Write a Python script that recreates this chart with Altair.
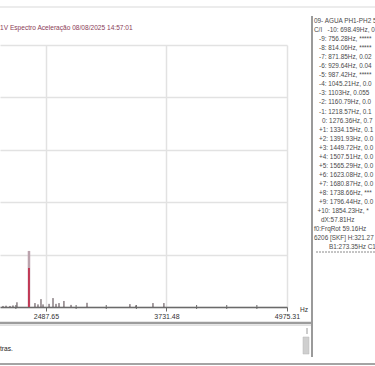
import altair as alt
import pandas as pd

# ---------------- data ----------------
title_text = ["1V Espectro Aceleração 08/08/2025 14:57:01"]

x_ticks = [2487.65, 3731.48, 4975.31]
x_minor = [2176.69, 2798.61, 3109.57, 3420.52, 4042.44, 4353.39, 4664.35]
x_min = 2012.9

peak_hz = [2044, 2075, 2116, 2147, 2188, 2374, 2405, 2436, 2457, 2519,
           2560, 2591, 2622, 2673, 2746, 2911, 3354, 3416, 3592, 3705]
peak_amp = [0.004, 0.005, 0.004, 0.006, 0.018, 0.015, 0.010, 0.030, 0.010, 0.012,
            0.034, 0.012, 0.015, 0.023, 0.008, 0.016, 0.011, 0.006, 0.015, 0.015]

main_hz = [2312]
main_total = [0.214]
main_red = [0.149]

panel_prefix = ["C/I"]
panel_lines = [
    "09- AGUA PH1-PH2 5",
    "-10: 698.49Hz, 0",
    "-9: 756.28Hz, *****",
    "-8: 814.06Hz, *****",
    "-7: 871.85Hz, 0.02",
    "-6: 929.64Hz, 0.04",
    "-5: 987.42Hz, *****",
    "-4: 1045.21Hz, 0.0",
    "-3: 1103Hz, 0.055",
    "-2: 1160.79Hz, 0.0",
    "-1: 1218.57Hz, 0.1",
    "0: 1276.36Hz, 0.7",
    "+1: 1334.15Hz, 0.1",
    "+2: 1391.93Hz, 0.0",
    "+3: 1449.72Hz, 0.0",
    "+4: 1507.51Hz, 0.0",
    "+5: 1565.29Hz, 0.0",
    "+6: 1623.08Hz, 0.0",
    "+7: 1680.87Hz, 0.0",
    "+8: 1738.66Hz, ***",
    "+9: 1796.44Hz, 0.0",
    "+10: 1854.23Hz, *",
    "dX:57.81Hz",
    "f0:FrqRot 59.16Hz",
    "6206 [SKF] H:321.27",
    "B1:273.35Hz C1",
]
bottom_text = ["tras."]
unit_text = ["Hz"]

# ---------------- chart ----------------
W, H = 287, 262
FONT = "Liberation Sans"

xscale = alt.Scale(domain=[x_min, 4975.31], nice=False, zero=False)
yscale = alt.Scale(domain=[0, 1], nice=False)

peaks = pd.DataFrame({"f": peak_hz, "a": peak_amp})
main = pd.DataFrame({"f": main_hz, "t": main_total, "r": main_red})

xaxis = alt.Axis(values=x_ticks, labelExpr="format(datum.value, '.2f')",
                 grid=True, gridColor="#e2e2e2", gridWidth=1.5,
                 domainColor="#6a6a6a", domainWidth=1.5,
                 tickColor="#6a6a6a", tickSize=4, labelFontSize=7,
                 labelFont=FONT, labelColor="#333", labelPadding=1,
                 title=None, labelFlush=False)
yaxis = alt.Axis(values=[round(i * 0.1, 1) for i in range(11)], grid=True,
                 gridColor="#e2e2e2", gridWidth=1.5, labels=False, ticks=False,
                 domain=False, title=None)

grid = alt.Chart(peaks).mark_rule(color="#4e3f45", strokeWidth=1).encode(
    x=alt.X("f:Q", scale=xscale, axis=xaxis),
    y=alt.Y("a:Q", scale=yscale, axis=yaxis),
    y2=alt.datum(0),
)

main_gray = alt.Chart(main).mark_rule(color="#bba3ad", strokeWidth=2.5).encode(
    x=alt.X("f:Q", scale=xscale), y=alt.Y("t:Q", scale=yscale), y2=alt.datum(0))
main_red_l = alt.Chart(main).mark_rule(color="#c2304e", strokeWidth=1.8).encode(
    x=alt.X("f:Q", scale=xscale), y=alt.Y("r:Q", scale=yscale), y2=alt.datum(0))

minor = alt.Chart(pd.DataFrame({"f": x_minor})).mark_rule(
    color="#6a6a6a", strokeWidth=1).encode(
    x=alt.X("f:Q", scale=xscale), y=alt.value(H - 2), y2=alt.value(H + 2))

title = alt.Chart(pd.DataFrame({"t": title_text})).mark_text(
    align="left", baseline="middle", font=FONT, fontSize=6.6, color="#8a3d58"
).encode(text="t:N", x=alt.value(0), y=alt.value(28 - 45))

panel_df = pd.DataFrame({"t": panel_lines, "row": list(range(len(panel_lines)))})
panel = alt.Chart(panel_df).transform_calculate(
    py="21 - 45 + datum.row * 9.05",
    px=("datum.row == 0 ? 314 : datum.row == 1 ? 327.5 : datum.row == 11 ? 322 : "
        "datum.row == 21 ? 317.5 : datum.row < 22 ? 319 : datum.row == 22 ? 321 : "
        "datum.row == 25 ? 329 : 314"),
).mark_text(align="left", baseline="middle", font=FONT, fontSize=6.4,
            color="#4a4a4a").encode(
    text="t:N",
    x=alt.X("px:Q", scale=None, axis=None),
    y=alt.Y("py:Q", scale=None, axis=None))

prefix = alt.Chart(pd.DataFrame({"t": panel_prefix})).mark_text(
    align="left", baseline="middle", font=FONT, fontSize=6.4, color="#4a4a4a"
).encode(text="t:N", x=alt.value(314), y=alt.value(21 - 45 + 9.05))

unit = alt.Chart(pd.DataFrame({"t": unit_text})).mark_text(
    align="left", baseline="middle", font=FONT, fontSize=6.6, color="#333"
).encode(text="t:N", x=alt.value(300), y=alt.value(310 - 45))

btxt = alt.Chart(pd.DataFrame({"t": bottom_text})).mark_text(
    align="left", baseline="middle", font=FONT, fontSize=6.6, color="#222"
).encode(text="t:N", x=alt.value(0), y=alt.value(349 - 45))

def hline(x1, x2, y, color, w, dash=None):
    kw = dict(color=color, strokeWidth=w)
    if dash:
        kw["strokeDash"] = dash
    return alt.Chart(pd.DataFrame({"k": [0]})).mark_rule(**kw).encode(
        x=alt.value(x1), x2=alt.value(x2), y=alt.value(y - 45))

def vline(x, y1, y2, color, w):
    return alt.Chart(pd.DataFrame({"k": [0]})).mark_rule(color=color, strokeWidth=w).encode(
        x=alt.value(x), y=alt.value(y1 - 45), y2=alt.value(y2 - 45))

top_line = hline(0, 375, 7, "#e6e6e6", 1.5)
sep_bottom = hline(0, 311, 323, "#9c9c9c", 2.5)
sep_bottom2 = hline(0, 311, 325.5, "#e0e0e0", 1)
foot = hline(0, 375, 364, "#a4a4a4", 2)
dash = hline(316, 375, 252, "#8a8a8a", 1, [2, 1])
panel_sep = vline(312, 16, 357, "#9a9a9a", 2)

scroll = alt.Chart(pd.DataFrame({"k": [0]})).mark_rect(
    color="#cfcfcf", stroke="#b5b5b5", strokeWidth=0.5).encode(
    x=alt.value(303), x2=alt.value(309), y=alt.value(337 - 45), y2=alt.value(354 - 45))
scroll_top = vline(307, 328, 334, "#9a9a9a", 1)

chart = alt.layer(
    top_line, grid, minor, main_gray, main_red_l, title, panel, prefix, unit, btxt,
    sep_bottom, sep_bottom2, foot, dash, panel_sep, scroll, scroll_top,
).properties(
    width=W, height=H,
    padding={"left": 0, "top": 45, "right": 88, "bottom": 59},
    autosize=alt.AutoSizeParams(type="none"),
    background="white",
).configure_view(stroke=None)

chart.save("out.html", embed_options={"renderer": "svg", "actions": False})
